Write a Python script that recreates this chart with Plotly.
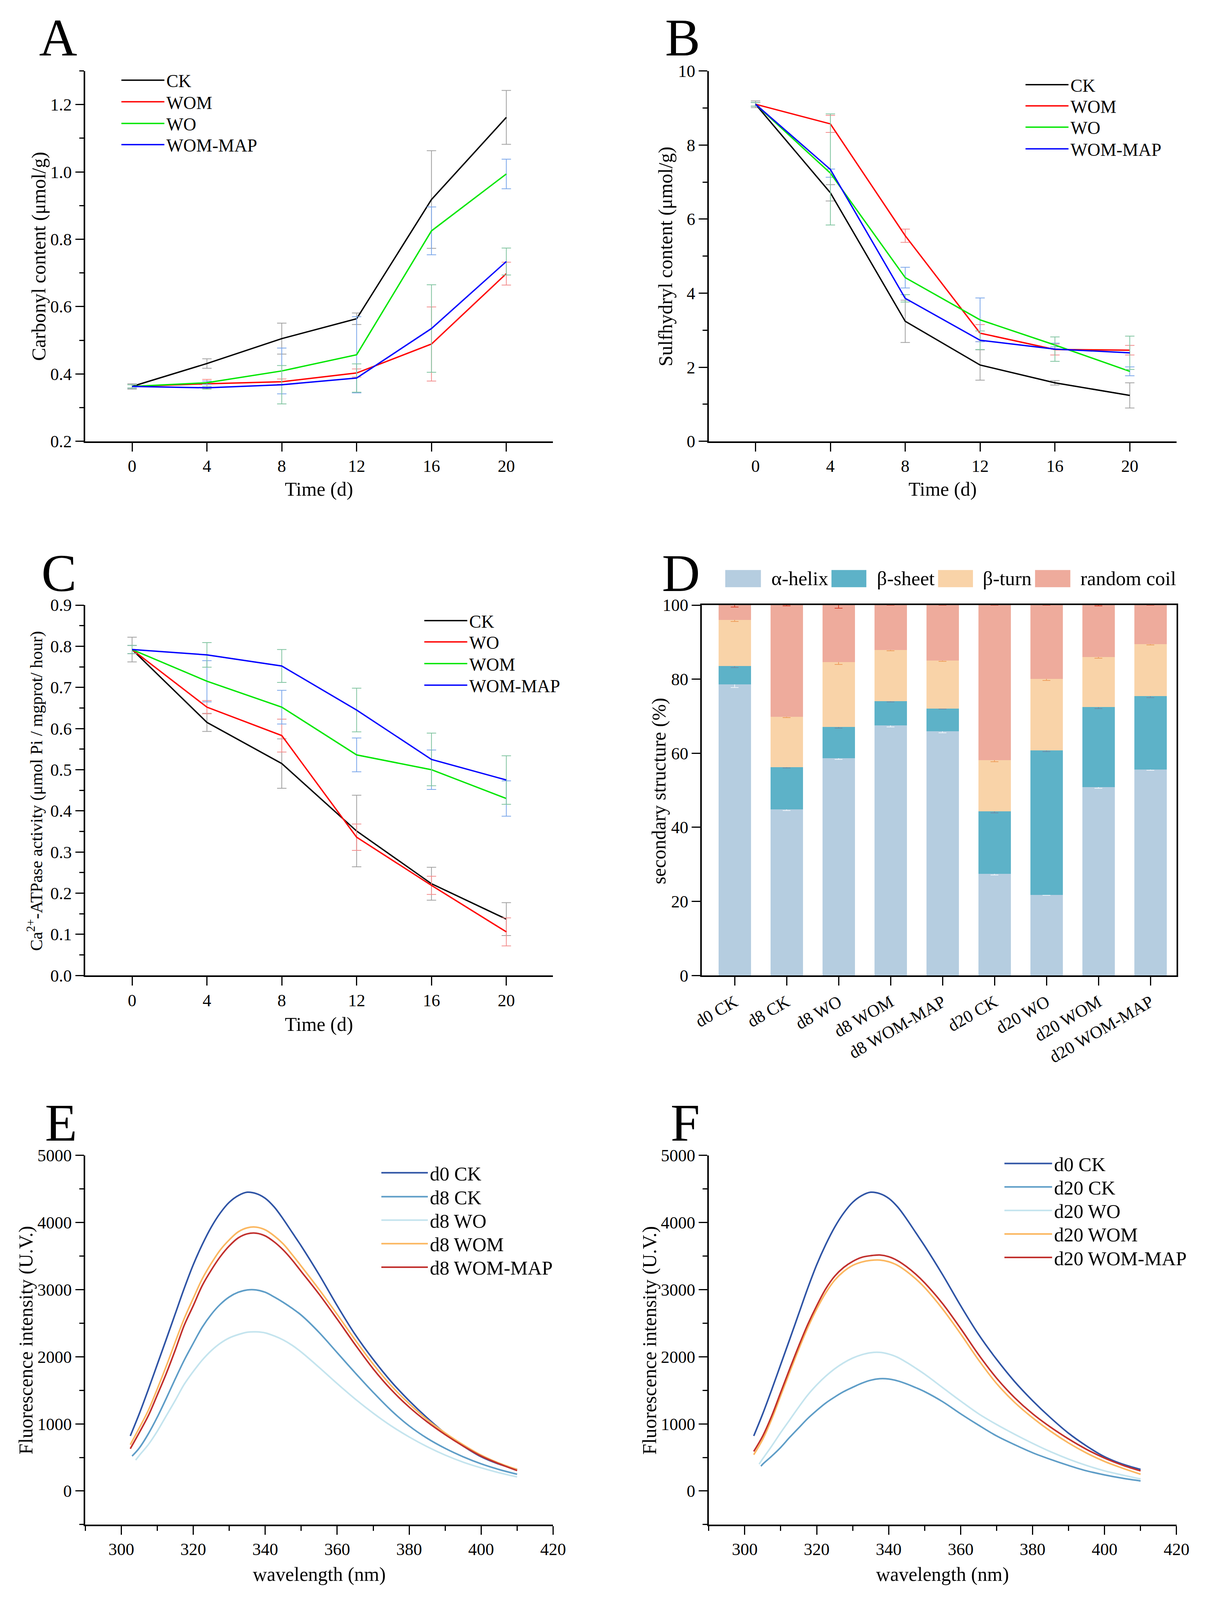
import plotly.graph_objects as go

W, H = 3094, 4238
FONT = "Liberation Serif"

# ---------------- data ----------------
days = [0, 4, 8, 12, 16, 20]

# A: carbonyl content (umol/g)
carb_ck = [0.363, 0.431, 0.505, 0.564, 0.918, 1.162]
carb_wom = [0.363, 0.371, 0.377, 0.403, 0.489, 0.698]
carb_wo = [0.363, 0.374, 0.409, 0.457, 0.825, 0.994]
carb_map = [0.363, 0.359, 0.368, 0.388, 0.535, 0.734]
carb_ck_err = [0.008, 0.014, 0.046, 0.017, 0.145, 0.080]
carb_wom_err = [0.005, 0.013, 0.008, 0.012, 0.110, 0.034]
carb_wo_err = [0.005, 0.005, 0.068, 0.113, 0.071, 0.044]
carb_map_err = [0.005, 0.004, 0.057, 0.042, 0.130, 0.040]

# B: sulfhydryl content (umol/g)
sh_ck = [9.10, 6.71, 3.24, 2.06, 1.58, 1.24]
sh_wom = [9.10, 8.57, 5.55, 2.92, 2.48, 2.46]
sh_wo = [9.10, 7.24, 4.42, 3.28, 2.60, 1.89]
sh_map = [9.10, 7.34, 3.86, 2.73, 2.49, 2.39]
sh_ck_err = [0.09, 0.22, 0.57, 0.41, 0.06, 0.34]
sh_wom_err = [0.05, 0.23, 0.18, 0.23, 0.15, 0.13]
sh_wo_err = [0.05, 0.11, 0.28, 0.59, 0.05, 0.12]
sh_map_err = [0.05, 1.50, 0.10, 0.25, 0.33, 0.45]

# C: Ca2+-ATPase activity
atp_ck = [0.792, 0.615, 0.515, 0.351, 0.223, 0.137]
atp_wo = [0.792, 0.652, 0.583, 0.336, 0.219, 0.106]
atp_wom = [0.792, 0.715, 0.652, 0.536, 0.500, 0.430]
atp_map = [0.792, 0.779, 0.752, 0.645, 0.525, 0.475]
atp_ck_err = [0.030, 0.022, 0.060, 0.087, 0.040, 0.040]
atp_wo_err = [0.010, 0.016, 0.040, 0.032, 0.022, 0.034]
atp_wom_err = [0.010, 0.050, 0.041, 0.041, 0.048, 0.043]
atp_map_err = [0.010, 0.030, 0.040, 0.053, 0.064, 0.059]

# D: secondary structure (%)
samples = ["d0 CK", "d8 CK", "d8 WO", "d8 WOM", "d8 WOM-MAP",
           "d20 CK", "d20 WO", "d20 WOM", "d20 WOM-MAP"]
alpha_helix = [78.6, 44.9, 58.7, 67.5, 65.9, 27.5, 21.8, 50.9, 55.6]
beta_sheet = [4.9, 11.3, 8.4, 6.6, 6.2, 16.8, 39.0, 21.6, 19.8]
beta_turn = [12.5, 13.6, 17.5, 13.8, 12.9, 13.8, 19.3, 13.5, 14.1]
random_coil = [4.0, 30.2, 15.4, 12.1, 15.0, 41.9, 19.9, 14.0, 10.5]
alpha_err = [0.8, 0.4, 0.4, 0.4, 0.4, 0.4, 0.2, 0.4, 0.2]
sheet_err = [0.4, 0.2, 0.3, 0.3, 0.2, 0.4, 0.3, 0.4, 0.4]
turn_err = [0.4, 0.2, 0.6, 0.2, 0.2, 0.4, 0.4, 0.3, 0.3]
coil_err = [0.5, 0.2, 0.8, 0.0, 0.0, 0.0, 0.0, 0.2, 0.0]

# E/F: fluorescence spectra
wl_a = [302.5, 305, 307.5, 310, 312.5, 315, 317.5, 320, 322.5, 325, 327.5, 330,
        332.5, 335, 337.5, 340, 342.5, 345, 347.5, 350, 355, 360, 365, 370,
        375, 380, 385, 390, 395, 400, 405, 410]
wl_b = [303] + wl_a[1:]
wl_c = [304] + wl_a[1:]
wl_d = [304.5] + wl_a[1:]

fl_d0_ck = [820, 1150, 1510, 1885, 2260, 2640, 3020, 3370, 3670, 3930, 4140, 4300,
            4400, 4450, 4430, 4360, 4230, 4050, 3850, 3650, 3220, 2760, 2330, 1960,
            1630, 1345, 1090, 860, 670, 510, 400, 322]
fl_d8_ck = [520, 640, 850, 1100, 1380, 1670, 1950, 2200, 2440, 2630, 2780, 2890,
            2960, 2995, 2995, 2960, 2890, 2810, 2720, 2620, 2360, 2060, 1760, 1470,
            1200, 970, 785, 635, 510, 405, 320, 250]
fl_d8_wo = [460, 530, 690, 890, 1120, 1350, 1590, 1780, 1950, 2090, 2200, 2280,
            2330, 2365, 2370, 2355, 2310, 2250, 2170, 2070, 1840, 1600, 1370, 1160,
            970, 805, 660, 535, 430, 345, 272, 210]
fl_d8_wom = [690, 940, 1200, 1520, 1860, 2220, 2570, 2870, 3160, 3390, 3590, 3740,
             3860, 3920, 3930, 3890, 3800, 3680, 3520, 3350, 3000, 2630, 2250, 1890,
             1570, 1300, 1065, 865, 690, 535, 415, 320]
fl_d8_map = [630, 870, 1120, 1430, 1750, 2100, 2470, 2760, 3060, 3290, 3490, 3650,
             3770, 3830, 3840, 3800, 3710, 3590, 3440, 3270, 2930, 2560, 2180, 1820,
             1510, 1250, 1030, 840, 670, 520, 405, 305]
fl_d20_ck = [370, 400, 520, 650, 800, 940, 1080, 1200, 1310, 1400, 1480, 1545,
             1605, 1650, 1672, 1668, 1640, 1595, 1540, 1480, 1330, 1150, 980, 820,
             690, 570, 470, 380, 300, 240, 190, 150]
fl_d20_wo = [400, 480, 670, 870, 1060, 1250, 1430, 1580, 1710, 1820, 1910, 1980,
             2030, 2060, 2065, 2040, 1990, 1915, 1830, 1740, 1540, 1340, 1150, 990,
             845, 710, 585, 475, 380, 300, 238, 180]
fl_d20_wom = [540, 770, 1070, 1420, 1770, 2110, 2430, 2710, 2950, 3140, 3270, 3360,
              3410, 3435, 3440, 3415, 3360, 3270, 3160, 3030, 2710, 2340, 1950, 1600,
              1320, 1090, 890, 715, 565, 440, 340, 250]
fl_d20_map = [590, 820, 1120, 1470, 1820, 2160, 2480, 2760, 3010, 3200, 3330, 3420,
              3480, 3505, 3515, 3490, 3430, 3340, 3230, 3100, 2790, 2420, 2030, 1680,
              1390, 1150, 950, 775, 620, 490, 385, 300]

# ---------------- styles ----------------
BLACK, RED, GREEN, BLUE = "#000000", "#ff0000", "#00e600", "#0000ff"
E_GREY, E_RED, E_GREEN, E_BLUE = "#a0a0a0", "#f28c8c", "#80c4a0", "#7aa6ea"
C_D0, C_CK, C_WO, C_WOM, C_MAP = "#2f54a5", "#5e9dc7", "#c4e4ee", "#fbb760", "#c1302d"
BAR_COLORS = ["#b5cde0", "#5db2c8", "#f9d3a8", "#eeab9c"]
BAR_ERR = ["#e9f1f7", "#6f8fa8", "#eea060", "#d9452f"]


def fx(px):
    return px / W


def fy(py):
    return 1 - py / H


fig = go.Figure()
legend_cfg = {}
leg_counter = [0]


def next_legend(line_left, row_center, size, iw):
    leg_counter[0] += 1
    k = leg_counter[0]
    name = "legend" if k == 1 else "legend%d" % k
    h = size * 1.3 + 3
    legend_cfg[name] = dict(
        x=fx(line_left - 5), y=fy(row_center - 5 - h / 2), xanchor="left", yanchor="top",
        font=dict(family=FONT, size=size, color="black"), bgcolor="rgba(0,0,0,0)",
        borderwidth=0, itemwidth=iw, tracegroupgap=0)
    return name


def line_trace(x, y, err, name, color, ecolor, xa, ya, legend, lw=3.5):
    tr = go.Scatter(x=x, y=y, mode="lines", name=name,
                    line=dict(color=color, width=lw),
                    xaxis=xa, yaxis=ya, legend=legend)
    if err is not None:
        tr.error_y = dict(type="data", array=err, visible=True, color=ecolor,
                          thickness=2, width=12)
    return tr


# legend row positions (reference pixels)
rows_A = [188, 246, 304, 361]
rows_B = [200, 257, 314, 372]
rows_C = [1637, 1694, 1752, 1810]
rows_E = [3117, 3181, 3244, 3307, 3370]
rows_F = [3092, 3155, 3218, 3281, 3344]

# A
for r, (y, e, n, c, ec) in zip(rows_A, [(carb_ck, carb_ck_err, "CK", BLACK, E_GREY),
                                        (carb_wom, carb_wom_err, "WOM", RED, E_RED),
                                        (carb_wo, carb_wo_err, "WO", GREEN, E_BLUE),
                                        (carb_map, carb_map_err, "WOM-MAP", BLUE, E_GREEN)]):
    fig.add_trace(line_trace(days, y, e, n, c, ec, "x", "y", next_legend(291, r, 46, 110)))
# B
for r, (y, e, n, c, ec) in zip(rows_B, [(sh_ck, sh_ck_err, "CK", BLACK, E_GREY),
                                        (sh_wom, sh_wom_err, "WOM", RED, E_RED),
                                        (sh_wo, sh_wo_err, "WO", GREEN, E_BLUE),
                                        (sh_map, sh_map_err, "WOM-MAP", BLUE, E_GREEN)]):
    fig.add_trace(line_trace(days, y, e, n, c, ec, "x2", "y2", next_legend(2649, r, 46, 110)))
# C
for r, (y, e, n, c, ec) in zip(rows_C, [(atp_ck, atp_ck_err, "CK", BLACK, E_GREY),
                                        (atp_wo, atp_wo_err, "WO", RED, E_RED),
                                        (atp_wom, atp_wom_err, "WOM", GREEN, E_BLUE),
                                        (atp_map, atp_map_err, "WOM-MAP", BLUE, E_GREEN)]):
    fig.add_trace(line_trace(days, y, e, n, c, ec, "x3", "y3", next_legend(1081, r, 46, 110)))
# D
for vals, errs, n, c, ec in [(alpha_helix, alpha_err, "α-helix", BAR_COLORS[0], BAR_ERR[0]),
                             (beta_sheet, sheet_err, "β-sheet", BAR_COLORS[1], BAR_ERR[1]),
                             (beta_turn, turn_err, "β-turn", BAR_COLORS[2], BAR_ERR[2]),
                             (random_coil, coil_err, "random coil", BAR_COLORS[3], BAR_ERR[3])]:
    fig.add_trace(go.Bar(x=samples, y=vals, name=n, marker=dict(color=c, line=dict(width=0)),
                         error_y=dict(type="data", array=errs, visible=True, color=ec,
                                      thickness=2, width=10),
                         xaxis="x4", yaxis="y4", showlegend=False))
# E
for r, (x, y, n, c) in zip(rows_E, [(wl_a, fl_d0_ck, "d0 CK", C_D0), (wl_b, fl_d8_ck, "d8 CK", C_CK),
                                    (wl_c, fl_d8_wo, "d8 WO", C_WO), (wl_a, fl_d8_wom, "d8 WOM", C_WOM),
                                    (wl_a, fl_d8_map, "d8 WOM-MAP", C_MAP)]):
    tr = line_trace(x, y, None, n, c, None, "x5", "y5", next_legend(969, r, 50, 119), lw=4)
    tr.line.shape = "spline"
    fig.add_trace(tr)
# F
for r, (x, y, n, c) in zip(rows_F, [(wl_a, fl_d0_ck, "d0 CK", C_D0), (wl_d, fl_d20_ck, "d20 CK", C_CK),
                                    (wl_c, fl_d20_wo, "d20 WO", C_WO), (wl_a, fl_d20_wom, "d20 WOM", C_WOM),
                                    (wl_a, fl_d20_map, "d20 WOM-MAP", C_MAP)]):
    tr = line_trace(x, y, None, n, c, None, "x6", "y6", next_legend(2594, r, 50, 122), lw=4)
    tr.line.shape = "spline"
    fig.add_trace(tr)

# ---------------- axes ----------------
TICKFONT = dict(family=FONT, size=44, color="black")


def ax(domain, rng, anchor, **kw):
    d = dict(domain=domain, range=rng, anchor=anchor, showline=True, linecolor="black",
             linewidth=3.5, ticks="outside", ticklen=22, tickwidth=3, tickcolor="black",
             showgrid=False, zeroline=False, tickfont=TICKFONT)
    d.update(kw)
    return d


def minor(dt):
    return dict(dtick=dt, ticks="outside", ticklen=12, tickwidth=3, tickcolor="black")


panels = {
    "A": ((197, 1417), (165, 1158)),
    "B": ((1823, 3043), (165, 1158)),
    "C": ((197, 1417), (1597, 2590)),
    "D": ((1805, 3043), (1597, 2590)),
    "E": ((197, 1417), (3072, 4062)),
    "F": ((1823, 3043), (3072, 4062)),
}


def xd(p):
    a, b = panels[p][0]
    return [fx(a), fx(b)]


def yd(p):
    t, b = panels[p][1]
    return [fy(b), fy(t)]


layout = dict(
    autosize=True, margin=dict(l=0, r=0, t=0, b=0, pad=0),
    paper_bgcolor="white", plot_bgcolor="white",
    font=dict(family=FONT, color="black"),
    barmode="stack", bargap=0.38,
    xaxis=ax(xd("A"), [-2.5, 22.5], "y", tick0=0, dtick=4),
    yaxis=ax(yd("A"), [0.2, 1.3], "x", tick0=0.2, dtick=0.2, tickformat=".1f", minor=minor(0.1)),
    xaxis2=ax(xd("B"), [-2.5, 22.5], "y2", tick0=0, dtick=4),
    yaxis2=ax(yd("B"), [0, 10], "x2", tick0=0, dtick=2, minor=minor(1)),
    xaxis3=ax(xd("C"), [-2.5, 22.5], "y3", tick0=0, dtick=4),
    yaxis3=ax(yd("C"), [0, 0.9], "x3", tick0=0, dtick=0.1, tickformat=".1f", minor=minor(0.05)),
    xaxis4=ax(xd("D"), [-0.633, 8.5], "y4", type="category", mirror=True, tickangle=-30,
              tickfont=dict(family=FONT, size=44, color="black")),
    yaxis4=ax(yd("D"), [0, 100], "x4", tick0=0, dtick=20, mirror=True),
    xaxis5=ax(xd("E"), [290, 420], "y5", tick0=300, dtick=20, minor=minor(10)),
    yaxis5=ax(yd("E"), [-500, 5000], "x5", tick0=0, dtick=1000, minor=minor(500)),
    xaxis6=ax(xd("F"), [290, 420], "y6", tick0=300, dtick=20, minor=minor(10)),
    yaxis6=ax(yd("F"), [-500, 5000], "x6", tick0=0, dtick=1000, minor=minor(500)),
)
layout.update(legend_cfg)
fig.update_layout(**layout)

# ---------------- annotations ----------------
ann = []


def text(xp, yp, s, size, angle=0, xanchor="center"):
    ann.append(dict(x=fx(xp), y=fy(yp), xref="paper", yref="paper", text=s, showarrow=False,
                    font=dict(family=FONT, size=size, color="black"), textangle=angle,
                    xanchor=xanchor, yanchor="middle"))


# panel letters
for s, xp, yp in [("A", 126, 76), ("B", 1755, 76), ("C", 128, 1512), ("D", 1751, 1512),
                  ("E", 133, 2985), ("F", 1762, 2985)]:
    text(xp, yp, s, 135)

# axis titles
text(76, 662, "Carbonyl content (μmol/g)", 50, -90)
text(807, 1286, "Time (d)", 50)
text(1710, 662, "Sulfhydryl content (μmol/g)", 50, -90)
text(2433, 1286, "Time (d)", 50)
text(66, 2095, "Ca<sup>2+</sup>-ATPase activity (μmol Pi / mgprot/ hour)", 44, -90)
text(807, 2721, "Time (d)", 50)
text(1692, 2095, "secondary structure (%)", 50, -90)
text(42, 3568, "Fluorescence intensity (U.V.)", 50, -90)
text(807, 4195, "wavelength (nm)", 50)
text(1668, 3568, "Fluorescence intensity (U.V.)", 50, -90)
text(2433, 4195, "wavelength (nm)", 50)

# legend for panel D (boxes + labels)
shapes = []
box_x = [(1866, 1959), (2143, 2234), (2421, 2512), (2674, 2766)]
lab_x = [1984, 2259, 2536, 2790]
labels = ["α-helix", "β-sheet", "β-turn", "random coil"]
for (a, b), lx, lab, col in zip(box_x, lab_x, labels, BAR_COLORS):
    shapes.append(dict(type="rect", xref="paper", yref="paper", x0=fx(a), x1=fx(b),
                       y0=fy(1549), y1=fy(1503), fillcolor=col, line=dict(width=0)))
    text(lx, 1526, lab, 51, 0, "left")

fig.update_layout(annotations=ann, shapes=shapes)

fig.write_html(
    "out.html",
    default_width="100vw",
    default_height="100vh",
    config={"responsive": True, "displayModeBar": False},
    post_script="document.body.style.margin='0';document.body.style.overflow='hidden';",
)
